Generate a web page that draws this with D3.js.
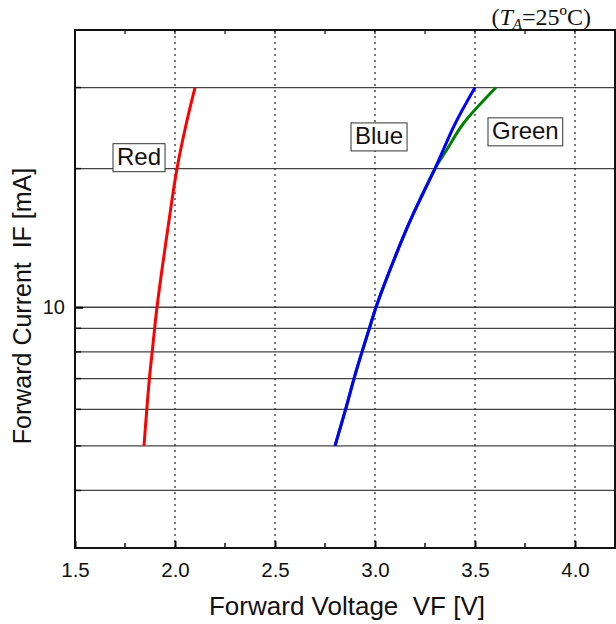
<!DOCTYPE html>
<html>
<head>
<meta charset="utf-8">
<script src="https://cdn.jsdelivr.net/npm/d3@7"></script>
<style>
  body { margin: 0; background: #fff; }
  text { font-family: "Liberation Sans", Arial, sans-serif; fill: #111; white-space: pre; }
</style>
</head>
<body>
<div id="chart"></div>
<script>
// Forward voltage (V) vs forward current (mA), one array per colour
const redV = [1.845, 1.859, 1.872, 1.886, 1.91, 1.966, 2.01, 2.056, 2.10];
const redI = [5, 6, 7, 8, 10, 15, 20, 25, 30];
const blueV = [2.80, 2.853, 2.895, 2.935, 2.972, 3.005, 3.135, 3.193, 3.30, 3.40, 3.50];
const blueI = [5, 6, 7, 8, 9, 10, 14, 16, 20, 25, 30];
const greenV = [2.80, 2.853, 2.895, 2.935, 2.972, 3.005, 3.135, 3.193, 3.30, 3.36, 3.44, 3.605];
const greenI = [5, 6, 7, 8, 9, 10, 14, 16, 20, 22, 25, 30];

const xTicks = [1.5, 2.0, 2.5, 3.0, 3.5, 4.0];
const yGrid = [4, 5, 6, 7, 8, 9, 10, 20, 30];

const margin = { top: 30, right: 1, bottom: 76, left: 75 },
    width = 616 - margin.left - margin.right,
    height = 624 - margin.top - margin.bottom;

const svg = d3.select("#chart")
    .append("svg")
    .attr("width", 616)
    .attr("height", 624);

const g = svg.append("g")
    .attr("transform", `translate(${margin.left},${margin.top})`);

const x = d3.scaleLinear().domain([1.5, 4.2]).range([0, width]);
const y = d3.scaleLog().domain([3, 40]).range([height, 0]);

// Horizontal grid (solid) and vertical grid (dotted)
g.selectAll(".hgrid")
    .data(yGrid)
    .enter()
    .append("line")
    .attr("x1", 0).attr("x2", width)
    .attr("y1", d => y(d)).attr("y2", d => y(d))
    .attr("stroke", "#444").attr("stroke-width", 1.3);

g.selectAll(".vgrid")
    .data(xTicks.slice(1))
    .enter()
    .append("line")
    .attr("x1", d => x(d)).attr("x2", d => x(d))
    .attr("y1", 0).attr("y2", height)
    .attr("stroke", "#222").attr("stroke-width", 1.2)
    .attr("stroke-dasharray", "2,4");

// Bottom axis: ticks inward
const xAxis = g.append("g")
    .attr("transform", `translate(0,${height})`)
    .call(d3.axisBottom(x).tickValues(xTicks).tickSize(-7).tickPadding(14).tickFormat(d3.format(".1f")));
xAxis.select(".domain").remove();
xAxis.selectAll("text").style("font-size", "20.5px");
xAxis.selectAll("line").attr("stroke-width", 2);
g.selectAll(".xminor")
    .data(d3.range(1.75, 4.2, 0.5))
    .enter()
    .append("line")
    .attr("x1", d => x(d)).attr("x2", d => x(d))
    .attr("y1", height).attr("y2", height - 5)
    .attr("stroke", "#111").attr("stroke-width", 1.5);

// Top minor ticks
g.selectAll(".xtop")
    .data(d3.range(1.75, 4.2, 0.25))
    .enter()
    .append("line")
    .attr("x1", d => x(d)).attr("x2", d => x(d))
    .attr("y1", 0).attr("y2", 4)
    .attr("stroke", "#111").attr("stroke-width", 1.2);

// Left axis: only 10 labelled, ticks at grid lines
const yAxis = g.append("g")
    .call(d3.axisLeft(y).tickValues([10]).tickSize(-8).tickPadding(10).tickFormat(d3.format("d")));
yAxis.select(".domain").remove();
yAxis.selectAll("text").style("font-size", "20px");
yAxis.selectAll("line").attr("stroke-width", 2);
g.selectAll(".yminor")
    .data(yGrid.filter(d => d !== 10))
    .enter()
    .append("line")
    .attr("x1", 0).attr("x2", 6)
    .attr("y1", d => y(d)).attr("y2", d => y(d))
    .attr("stroke", "#111").attr("stroke-width", 1.5);

// Plot frame
g.append("rect")
    .attr("width", width).attr("height", height)
    .attr("fill", "none").attr("stroke", "#111").attr("stroke-width", 2);

// Curves
const line = d3.line()
    .x(d => x(d[0]))
    .y(d => y(d[1]))
    .curve(d3.curveCatmullRom.alpha(0.5));

const series = [
    { v: greenV, i: greenI, color: "#008000" },
    { v: blueV, i: blueI, color: "#0000ff" },
    { v: redV, i: redI, color: "#ff0000" }
];
series.forEach(s => {
    g.append("path")
        .datum(d3.zip(s.v, s.i))
        .attr("d", line)
        .attr("fill", "none")
        .attr("stroke", s.color)
        .attr("stroke-width", 3);
});

// Boxed labels
const labels = [
    { text: "Red", px: 1.71, py: 21.0 },
    { text: "Blue", px: 2.9, py: 23.3 },
    { text: "Green", px: 3.585, py: 23.9 }
];
labels.forEach(l => {
    const lg = g.append("g");
    const t = lg.append("text")
        .attr("x", x(l.px)).attr("y", y(l.py))
        .style("font-size", "24px")
        .attr("dominant-baseline", "middle")
        .text(l.text);
    const b = t.node().getBBox();
    lg.insert("rect", "text")
        .attr("x", b.x - 4).attr("y", b.y + 0.5)
        .attr("width", b.width + 8).attr("height", b.height + 1)
        .attr("fill", "#fff").attr("stroke", "#333").attr("stroke-width", 1);
});

// Temperature note
const note = svg.append("text")
    .attr("x", 591).attr("y", 25)
    .attr("text-anchor", "end")
    .style("font-family", "'Liberation Serif', 'Times New Roman', serif")
    .style("font-size", "24px");
note.append("tspan").text("(");
note.append("tspan").attr("font-style", "italic").text("T");
note.append("tspan").attr("font-style", "italic").style("font-size", "15px").attr("dy", 4).text("A");
note.append("tspan").attr("dy", -4).text("=25ºC)");

// Axis titles
svg.append("text")
    .attr("x", margin.left + x(2.86)).attr("y", 615)
    .attr("text-anchor", "middle")
    .style("font-size", "26px")
    .text("Forward Voltage  VF [V]");

svg.append("text")
    .attr("transform", "translate(31,306) rotate(-90)")
    .attr("text-anchor", "middle")
    .style("font-size", "25px")
    .text("Forward Current  IF [mA]");
</script>
</body>
</html>
